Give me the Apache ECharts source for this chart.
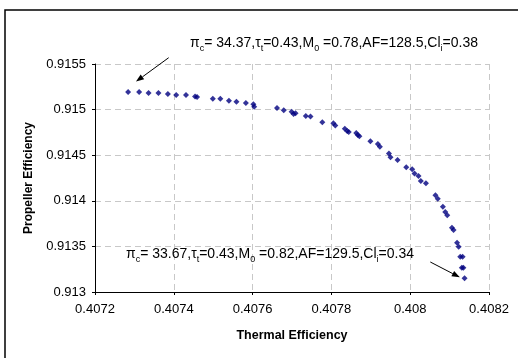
<!DOCTYPE html>
<html>
<head>
<meta charset="utf-8">
<script src="https://cdn.jsdelivr.net/npm/echarts@6/dist/echarts.min.js"></script>
<style>
  html, body { margin: 0; padding: 0; background: #fff; }
  #chart { width: 518px; height: 358px; }
</style>
</head>
<body>
<div id="chart"></div>
<script>
// data
const thermalEff = [
  0.407284, 0.407312, 0.407336, 0.407361, 0.407385, 0.407406, 0.407431, 0.407454, 0.407459,
  0.407499, 0.407518, 0.407540, 0.407559, 0.407583, 0.407602, 0.407604, 0.407662, 0.407679,
  0.407699, 0.407704, 0.407709, 0.407735, 0.407747, 0.407777, 0.407805, 0.407810, 0.407834,
  0.407840, 0.407844, 0.407863, 0.407867, 0.407871, 0.407899, 0.407918, 0.407923, 0.407946,
  0.407950, 0.407968, 0.407990, 0.408005, 0.408011, 0.408021, 0.408027, 0.408040, 0.408064,
  0.408070, 0.408083, 0.408089, 0.408094, 0.408106, 0.408110, 0.408119, 0.408123, 0.408127,
  0.408133, 0.408131, 0.408135, 0.408138
]
const propellerEff = [
  0.915193, 0.915193, 0.915182, 0.915182, 0.915171, 0.915160, 0.915160, 0.915145, 0.915138,
  0.915120, 0.915120, 0.915098, 0.915087, 0.915072, 0.915058, 0.915032, 0.915018, 0.914992,
  0.914977, 0.914952, 0.914959, 0.914930, 0.914923, 0.914860, 0.914849, 0.914827, 0.914791,
  0.914765, 0.914754, 0.914743, 0.914721, 0.914707, 0.914652, 0.914623, 0.914594, 0.914520,
  0.914477, 0.914447, 0.914367, 0.914345, 0.914298, 0.914272, 0.914217, 0.914192, 0.914060,
  0.914023, 0.913936, 0.913877, 0.913841, 0.913705, 0.913680, 0.913541, 0.913497, 0.913387,
  0.913387, 0.913267, 0.913267, 0.913150
]
// arrows in data space: [fromX, fromY, toX, toY]
const topArrow = [0.407387, 0.915569, 0.407304, 0.915307]
const bottomArrow = [0.408051, 0.913329, 0.408126, 0.913161]

const topNote = '{n|π}{s|c}{n|= 34.37,τ}{s|t}{n|=0.43,M}{s|0}{n| =0.78,AF=128.5,Cl}{s|i}{n|=0.38}'
const bottomNote = '{n|π}{s|c}{n|= 33.67,τ}{s|t}{n|=0.43,M}{s|0}{n| =0.82,AF=129.5,Cl}{s|i}{n|=0.34}'

const points = thermalEff.map((x, i) => [x, propellerEff[i]])
const fmt = v => String(+v.toFixed(4))
const noteStyle = {
  n: { fontSize: 14, fontFamily: 'Liberation Sans', color: '#000', lineHeight: 18, verticalAlign: 'top' },
  s: { fontSize: 9, fontFamily: 'Liberation Sans', color: '#000', lineHeight: 18, verticalAlign: 'top', padding: [8, 0, 0, 0] }
}

const chart = echarts.init(document.getElementById('chart'))
chart.setOption({
  animation: false,
  backgroundColor: '#fff',
  textStyle: { fontFamily: 'Liberation Sans' },
  grid: { left: 95, right: 29, top: 64, bottom: 66 },
  xAxis: {
    type: 'value',
    min: 0.4072,
    max: 0.4082,
    interval: 0.0002,
    name: 'Thermal Efficiency',
    nameLocation: 'middle',
    nameGap: 37,
    nameTextStyle: { fontSize: 12.5, fontWeight: 'bold', color: '#000' },
    axisLine: { lineStyle: { color: '#000' } },
    axisTick: { length: 3, lineStyle: { color: '#000' } },
    axisLabel: { fontSize: 13, color: '#000', margin: 11, formatter: fmt },
    splitLine: { lineStyle: { color: '#c8c8c8', type: [6, 4] } }
  },
  yAxis: {
    type: 'value',
    min: 0.913,
    max: 0.9155,
    interval: 0.0005,
    name: 'Propeller Efficiency',
    nameLocation: 'middle',
    nameGap: 60,
    nameTextStyle: { fontSize: 12, fontWeight: 'bold', color: '#000' },
    axisLine: { show: true, lineStyle: { color: '#000' } },
    axisTick: { show: true, length: 3, lineStyle: { color: '#000' } },
    axisLabel: { fontSize: 13, color: '#000', margin: 9, formatter: fmt },
    splitLine: { lineStyle: { color: '#c8c8c8', type: [6, 4] } }
  },
  series: [{
    type: 'scatter',
    symbol: 'diamond',
    symbolSize: 6,
    itemStyle: { color: '#000080' },
    data: points
  }],
  graphic: [
    { type: 'rect', shape: { x: 5, y: 10, width: 600, height: 400 }, style: { fill: 'none', stroke: '#000', lineWidth: 1.5 } },
    { type: 'text', x: 190, y: 36, style: { text: topNote, rich: noteStyle } },
    { type: 'text', x: 126, y: 247, style: { text: bottomNote, rich: noteStyle } }
  ]
})

// arrows placed through the chart's own scales
function arrow(a) {
  const p0 = chart.convertToPixel({ gridIndex: 0 }, [a[0], a[1]])
  const p1 = chart.convertToPixel({ gridIndex: 0 }, [a[2], a[3]])
  const ang = Math.atan2(p1[1] - p0[1], p1[0] - p0[0])
  const L = 8, W = 3
  const bx = p1[0] - L * Math.cos(ang), by = p1[1] - L * Math.sin(ang)
  const nx = -Math.sin(ang) * W, ny = Math.cos(ang) * W
  return [
    { type: 'line', shape: { x1: p0[0], y1: p0[1], x2: bx, y2: by }, style: { stroke: '#000', lineWidth: 1 } },
    { type: 'polygon', shape: { points: [[p1[0], p1[1]], [bx + nx, by + ny], [bx - nx, by - ny]] }, style: { fill: '#000' } }
  ]
}
const arrows = arrow(topArrow).concat(arrow(bottomArrow))
const opt = chart.getOption()
chart.setOption({ graphic: opt.graphic[0].elements.concat(arrows) }, { replaceMerge: ['graphic'] })
</script>
</body>
</html>
